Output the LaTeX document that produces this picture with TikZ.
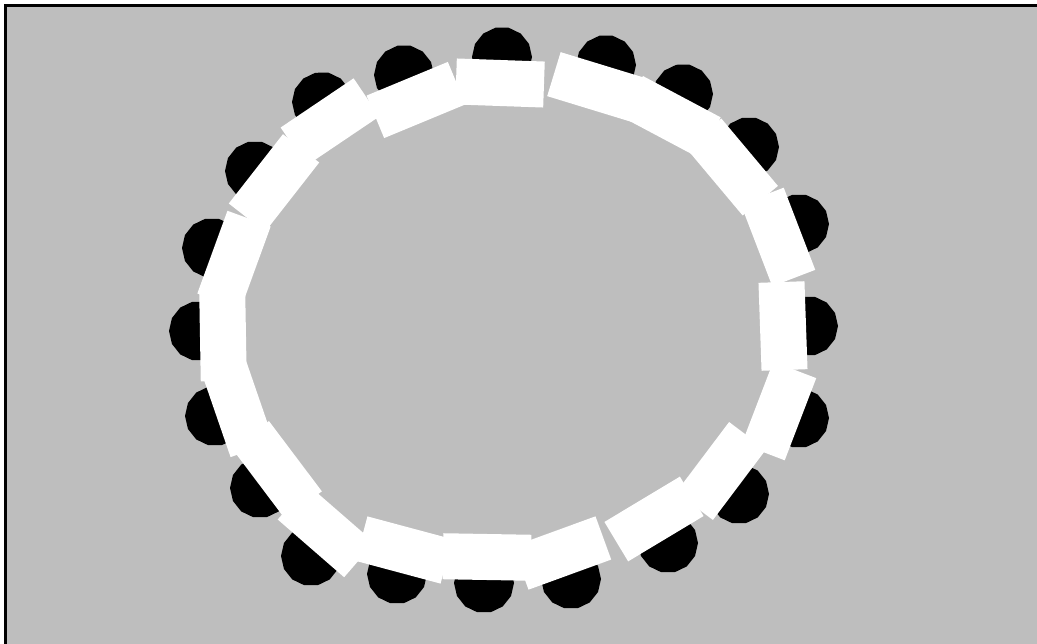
\documentclass[tikz,border=0pt]{standalone}
\usetikzlibrary{shapes.geometric}
\definecolor{floorgrey}{RGB}{190,190,190}
\tikzset{
  chair/.style={regular polygon, regular polygon sides=14, minimum size=60pt, inner sep=0pt, fill=black, draw=none},
  tablebox/.style={rectangle, minimum width=88pt, minimum height=46pt, inner sep=0pt, fill=white, draw=none},
  frameline/.style={line width=3pt, draw=black}
}
\begin{document}
\begin{tikzpicture}[x=1pt,y=-1pt]
\useasboundingbox (0,0) rectangle (1037,644);
\clip (0,0) rectangle (1037,644);
\fill[white] (0,0) rectangle (1037,644);
\fill[floorgrey] (5.5,5.5) rectangle (1037,644);
\draw[frameline] (5.5,644) -- (5.5,5.5) -- (1037,5.5);
% chairs
\node[chair] (c1) at (502,57) {};
\node[chair] (c2) at (606,65) {};
\node[chair] (c3) at (683,94) {};
\node[chair] (c4) at (749,147) {};
\node[chair] (c5) at (799,224) {};
\node[chair] (c6) at (808,326) {};
\node[chair] (c7) at (799,418) {};
\node[chair] (c8) at (739,494) {};
\node[chair] (c9) at (668,543) {};
\node[chair] (c10) at (571,579) {};
\node[chair] (c11) at (484,583) {};
\node[chair] (c12) at (397,574) {};
\node[chair] (c13) at (311,556) {};
\node[chair] (c14) at (260,488) {};
\node[chair] (c15) at (215,416) {};
\node[chair] (c16) at (199,331) {};
\node[chair] (c17) at (212,248) {};
\node[chair] (c18) at (255,171) {};
\node[chair] (c19) at (322,102) {};
\node[chair] (c20) at (404,75) {};
% tables
\node[tablebox, rotate=-2] (t1) at (500,83) {};
\node[tablebox, rotate=-17] (t2) at (596,87) {};
\node[tablebox, rotate=-28] (t3) at (671,117) {};
\node[tablebox, rotate=-50] (t4) at (732,167) {};
\node[tablebox, rotate=-69] (t5) at (778,237) {};
\node[tablebox, rotate=-88] (t6) at (783,326) {};
\node[tablebox, rotate=69] (t7) at (779,411) {};
\node[tablebox, rotate=53] (t8) at (721,471) {};
\node[tablebox, rotate=31] (t9) at (654,519) {};
\node[tablebox, rotate=20] (t10) at (562,553) {};
\node[tablebox, rotate=-1] (t11) at (487,557) {};
\node[tablebox, rotate=-15] (t12) at (404,550) {};
\node[tablebox, rotate=-41] (t13) at (326,531) {};
\node[tablebox, rotate=-53] (t14) at (277,470) {};
\node[tablebox, rotate=-71] (t15) at (238,408) {};
\node[tablebox, rotate=-89] (t16) at (223,337) {};
\node[tablebox, rotate=70] (t17) at (234,260) {};
\node[tablebox, rotate=52] (t18) at (274,183) {};
\node[tablebox, rotate=34] (t19) at (330,122) {};
\node[tablebox, rotate=22.5] (t20) at (416,100) {};
\end{tikzpicture}
\end{document}
